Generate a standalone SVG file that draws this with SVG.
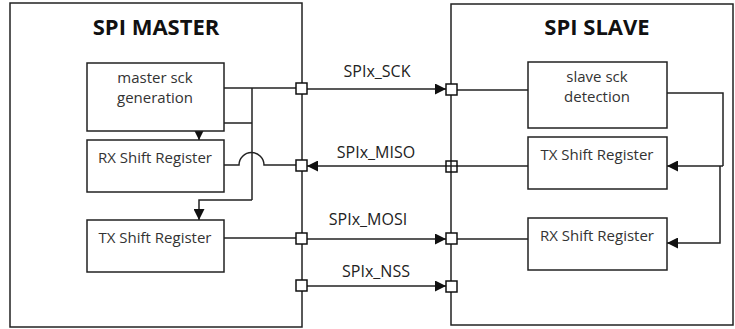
<svg xmlns="http://www.w3.org/2000/svg" width="735" height="329" viewBox="0 0 735 329">
<style>
.frame{fill:#fff;stroke:#222;stroke-width:1.5}
.blk{fill:#fff;stroke:#222;stroke-width:1.5}
.port{fill:#fff;stroke:#111;stroke-width:1.5}
.w{fill:none;stroke:#222;stroke-width:1.5}
.t{font-family:"Open Sans","Noto Sans",sans-serif;font-size:15px;fill:#333;text-anchor:middle}
.ttl{font-family:"Open Sans","Noto Sans",sans-serif;font-size:22px;font-weight:bold;fill:#111;text-anchor:middle}
.lbl{font-family:"Open Sans","Noto Sans",sans-serif;font-size:16px;fill:#222;text-anchor:middle}
</style>
<defs>
<marker id="ah" viewBox="0 0 10 10" refX="10" refY="5" markerWidth="11" markerHeight="11" markerUnits="userSpaceOnUse" orient="auto">
<path d="M0,0 L10,5 L0,10 z" fill="#111"/>
</marker>
</defs>
<rect width="735" height="329" fill="#fff"/>
<g id="master">
<rect class="frame" x="10" y="3" width="292" height="324"/>
<text class="ttl" x="156" y="35">SPI MASTER</text>
</g>
<g id="slave">
<rect class="frame" x="451" y="4" width="282" height="321"/>
<text class="ttl" x="597" y="35">SPI SLAVE</text>
</g>
<g id="connectors">
<path class="w" d="M224,88 H297"/>
<path class="w" d="M252,88 V200"/>
<path class="w" d="M252,123 H199 V140" marker-end="url(#ah)"/>
<path class="w" d="M252,200 H199 V220" marker-end="url(#ah)"/>
<path class="w" d="M224,165 H239 A12.5,12.5 0 0 1 264,165 H297"/>
<path class="w" d="M224,238 H297"/>
<path class="w" d="M307,89 H446" marker-end="url(#ah)"/>
<path class="w" d="M457,166 H307" marker-end="url(#ah)"/>
<path class="w" d="M307,239 H446" marker-end="url(#ah)"/>
<path class="w" d="M307,286 H446" marker-end="url(#ah)"/>
<path class="w" d="M457,90 H528"/>
<path class="w" d="M528,166 H457"/>
<path class="w" d="M528,239 H457"/>
<path class="w" d="M667,93 H723 V166"/>
<path class="w" d="M723,166 H667" marker-end="url(#ah)"/>
<path class="w" d="M720,166 V243 H667" marker-end="url(#ah)"/>
</g>
<g id="ports">
<rect class="port" x="296" y="83" width="11" height="11"/>
<rect class="port" x="296" y="160" width="11" height="11"/>
<rect class="port" x="296" y="233" width="11" height="11"/>
<rect class="port" x="296" y="280" width="11" height="11"/>
<rect class="port" x="446" y="84" width="11" height="11"/>
<rect class="port" x="446" y="161" width="11" height="11" fill-opacity="0"/>
<rect class="port" x="446" y="233" width="11" height="11"/>
<rect class="port" x="446" y="281" width="11" height="11"/>
</g>
<g id="labels">
<text class="lbl" x="377" y="77">SPIx_SCK</text>
<text class="lbl" x="376" y="158">SPIx_MISO</text>
<text class="lbl" x="368" y="225">SPIx_MOSI</text>
<text class="lbl" x="376" y="277">SPIx_NSS</text>
</g>
<g id="master-sck">
<rect class="blk" x="87" y="63" width="137" height="68"/>
<text class="t" x="155" y="83">master sck</text>
<text class="t" x="155" y="103">generation</text>
</g>
<g id="master-rx">
<rect class="blk" x="87" y="140" width="137" height="52"/>
<text class="t" x="155" y="163">RX Shift Register</text>
</g>
<g id="master-tx">
<rect class="blk" x="87" y="220" width="137" height="52"/>
<text class="t" x="155" y="243">TX Shift Register</text>
</g>
<g id="slave-sck">
<rect class="blk" x="528" y="62" width="139" height="66"/>
<text class="t" x="597" y="82">slave sck</text>
<text class="t" x="597" y="102">detection</text>
</g>
<g id="slave-tx">
<rect class="blk" x="528" y="137" width="139" height="52"/>
<text class="t" x="597" y="160">TX Shift Register</text>
</g>
<g id="slave-rx">
<rect class="blk" x="528" y="218" width="139" height="52"/>
<text class="t" x="597" y="241">RX Shift Register</text>
</g>
</svg>
